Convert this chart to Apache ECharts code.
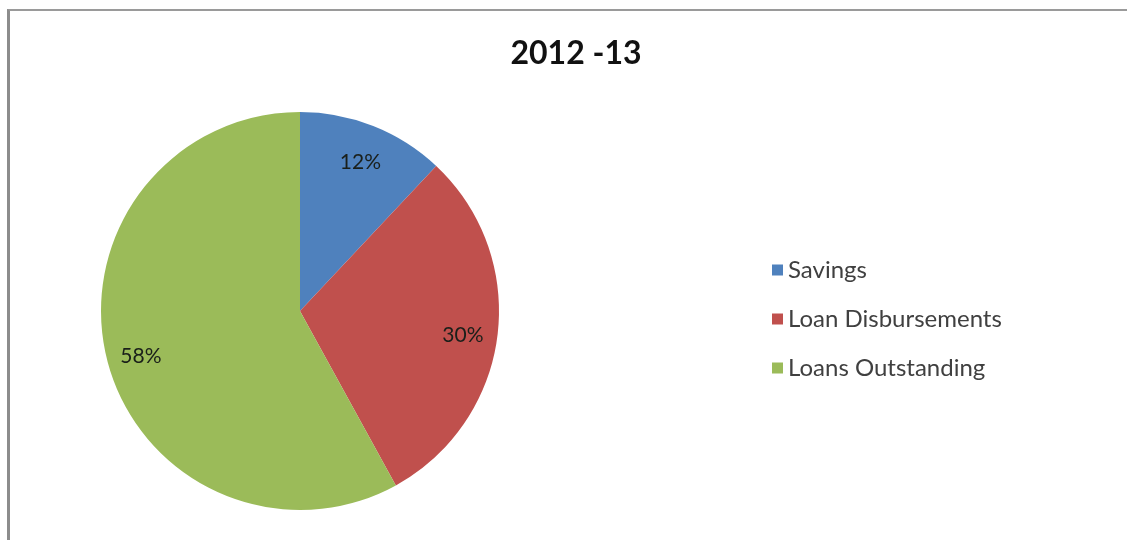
<!DOCTYPE html>
<html>
<head>
<meta charset="utf-8">
<script src="https://cdn.jsdelivr.net/npm/echarts@6/dist/echarts.min.js"></script>
<style>
  html, body { margin: 0; padding: 0; background: #ffffff; }
  #frame {
    position: absolute; left: 7px; top: 9px; width: 1120px; height: 531px;
    border-left: 3px solid #8c8c8c; border-top: 2px solid #9a9a9a;
    box-sizing: border-box;
  }
  #chart { position: absolute; left: 0; top: 0; width: 1127px; height: 540px; }
</style>
</head>
<body>
<div id="frame"></div>
<div id="chart"></div>
<script>
const titleText = '2012 -13';
const categories = ['Savings', 'Loan Disbursements', 'Loans Outstanding'];
const shares = [12, 30, 58];
const colors = ['#4f81bd', '#c0504d', '#9bbb59'];

const slices = categories.map((name, i) => ({
  name: name,
  value: shares[i],
  itemStyle: { color: colors[i] }
}));

const chart = echarts.init(document.getElementById('chart'), null, { renderer: 'canvas' });

const center = [300, 311];
const radius = 199;

chart.setOption({
  animation: false,
  title: {
    text: titleText,
    left: 571,
    top: 33,
    textAlign: 'center',
    textStyle: { fontFamily: 'Lato', fontWeight: 'bold', fontSize: 32, color: '#111111' }
  },
  legend: {
    orient: 'vertical',
    left: 767,
    top: 253,
    itemWidth: 11,
    itemHeight: 11,
    itemGap: 25,
    itemTextGap: 9,
    icon: 'rect',
    data: categories,
    textStyle: { fontFamily: 'Lato', fontSize: 24, lineHeight: 24, color: '#404040' }
  },
  series: [
    {
      type: 'pie',
      center: center,
      radius: [0, radius],
      startAngle: 90,
      clockwise: true,
      silent: true,
      label: { show: false },
      labelLine: { show: false },
      data: slices
    },
    {
      // label carrier: same shares, drawn transparent, so "inside" labels sit at ~0.81 of the visible radius
      type: 'pie',
      center: center,
      radius: [0, radius * 1.62],
      startAngle: 90,
      clockwise: true,
      silent: true,
      z: 3,
      itemStyle: { color: 'rgba(0,0,0,0)' },
      label: {
        show: true,
        position: 'inside',
        formatter: p => p.value + '%',
        fontFamily: 'Lato',
        fontSize: 21,
        color: '#1a1f1a',
        offset: [0, 4]
      },
      labelLine: { show: false },
      data: shares.map((v, i) => ({ name: categories[i], value: v }))
    }
  ]
});
</script>
</body>
</html>
